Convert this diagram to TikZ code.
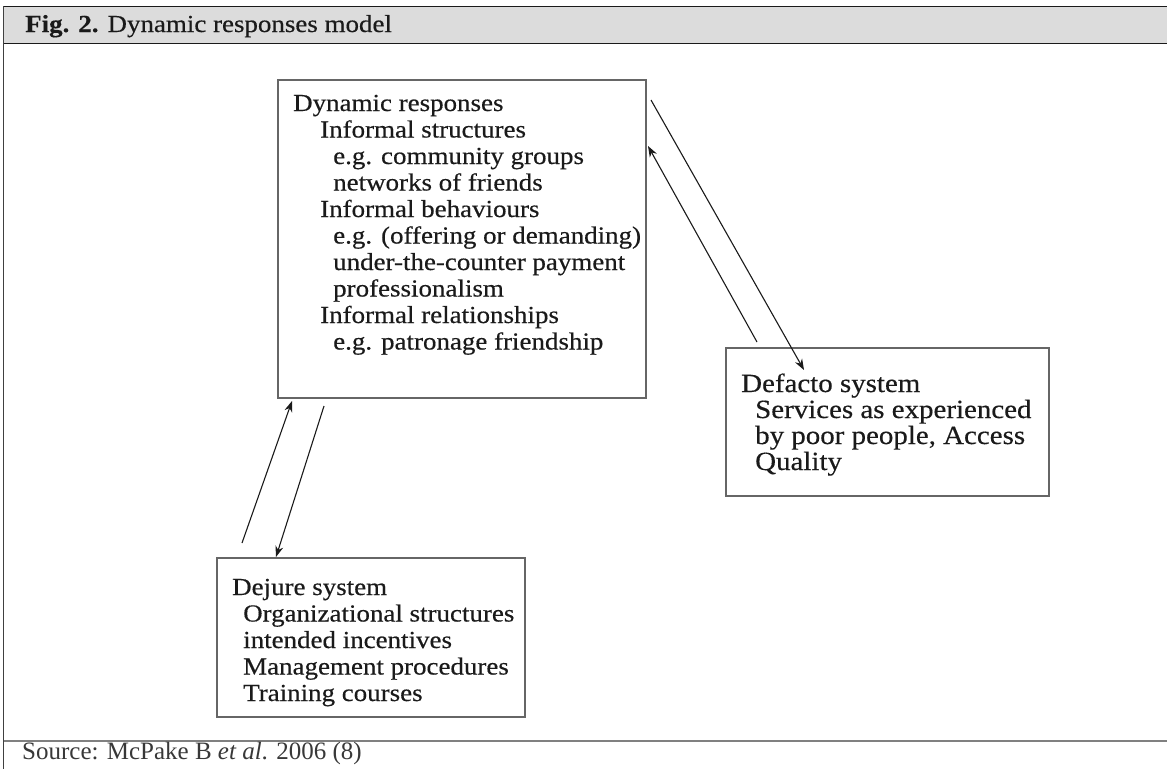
\documentclass[tikz,border=0pt]{standalone}
\usepackage{fontspec}
\setmainfont{Liberation Serif}[FakeStretch=1.1, FakeBold=0.4]
\newfontfamily\srcfont{Liberation Serif}
\usetikzlibrary{arrows.meta}
\definecolor{hdrgray}{HTML}{DCDCDC}
\definecolor{txt}{HTML}{1A1A1A}
\definecolor{boxline}{HTML}{666666}
\tikzset{
  line/.style={inner sep=0pt, anchor=base west, text=txt, font=\fontsize{24.5}{26.5}\selectfont},
  bigline/.style={line, font=\fontsize{26.3}{26.5}\selectfont},
  frame/.style={draw=boxline, line width=1.2pt},
  conn/.style={draw=txt, line width=1.1pt, -{Stealth[length=11pt,width=8pt]}},
}
\begin{document}
\begin{tikzpicture}[x=1pt,y=-1pt]
\useasboundingbox (0,0) rectangle (1167,769);
% header
\fill[hdrgray] (3.5,7) rectangle (1167,43);
\draw[txt, line width=1.8pt] (3.5,6.5) -- (1167,6.5);
\draw[txt, line width=1.8pt] (3.5,43.5) -- (1167,43.5);
\draw[black!75, line width=1.5pt] (3.5,6) -- (3.5,769);
\draw[black!50, line width=2pt] (3.5,741) -- (1167,741);
\node[line] (title) at (25,32) {\textbf{Fig. 2.} Dynamic responses model};
\node[line, font=\srcfont\fontsize{25}{26}\selectfont, text=black!78] (src) at (22,759) {Source: McPake B \textit{et al}. 2006 (8)};
% boxes
\draw[frame] (278,80) rectangle (646,398);
\draw[frame] (217,558) rectangle (525,717);
\draw[frame] (726,348) rectangle (1049,496);
% dynamic box text
\node[line] (d1) at (293,111) {Dynamic responses};
\node[line] (d2) at (320,137.5) {Informal structures};
\node[line] (d3) at (333,164) {e.g. community groups};
\node[line] (d4) at (333,190.5) {networks of friends};
\node[line] (d5) at (320,217) {Informal behaviours};
\node[line] (d6) at (333,243.5) {e.g. (offering or demanding)};
\node[line] (d7) at (333,270) {under-the-counter payment};
\node[line] (d8) at (333,296.5) {professionalism};
\node[line] (d9) at (320,323) {Informal relationships};
\node[line] (d10) at (333,349.5) {e.g. patronage friendship};
% defacto text
\node[bigline] (f1) at (741,392) {Defacto system};
\node[bigline] (f2) at (755,418) {Services as experienced};
\node[bigline] (f3) at (755,444) {by poor people, Access};
\node[bigline] (f4) at (755,470) {Quality};
% dejure text
\node[line] (j1) at (232,595) {Dejure system};
\node[line] (j2) at (243,621.5) {Organizational structures};
\node[line] (j3) at (243,648) {intended incentives};
\node[line] (j4) at (243,674.5) {Management procedures};
\node[line] (j5) at (243,701) {Training courses};
% arrow end points
\coordinate (a1s) at (242,543);
\coordinate (a1e) at (292,401);
\coordinate (a2s) at (324,406);
\coordinate (a2e) at (276,557);
\coordinate (b1s) at (651,100);
\coordinate (b1e) at (804,370);
\coordinate (b2s) at (757,342);
\coordinate (b2e) at (648,146);
\draw[conn] (a1s) -- (a1e);
\draw[conn] (a2s) -- (a2e);
\draw[conn] (b1s) -- (b1e);
\draw[conn] (b2s) -- (b2e);
\end{tikzpicture}
\end{document}
